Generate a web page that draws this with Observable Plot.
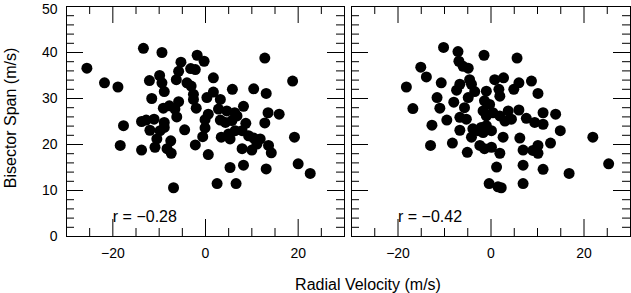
<!DOCTYPE html>
<html>
<head>
<meta charset="utf-8">
<script src="https://cdn.jsdelivr.net/npm/d3@7"></script>
<script src="https://cdn.jsdelivr.net/npm/@observablehq/plot@0.6"></script>
<style>
  html, body { margin: 0; padding: 0; background: #fff; }
  #chart { position: relative; width: 631px; height: 293px; overflow: hidden;
           font-family: "Liberation Sans", Arial, Helvetica, sans-serif; color: #000; }
  #chart svg { position: absolute; top: 0; }
  .title { position: absolute; font-size: 16px; line-height: 16px; white-space: nowrap; }
  #ytitle { left: 11px; top: 118px; transform: translate(-50%, -50%) rotate(-90deg); }
  #xtitle { left: 368px; top: 277px; transform: translateX(-50%); }
</style>
</head>
<body>
<div id="chart">
  <div class="title" id="ytitle">Bisector Span (m/s)</div>
  <div class="title" id="xtitle">Radial Velocity (m/s)</div>
</div>
<script>
// ---- Data ----
const leftVel = [
  -25.6, -21.8, -18.9, -13.4, -9.4, -1.8, -0.3, -5.3, -5.8, -3.2, -2.2, -12.1, -9.9, -9.4, -8.9,
  -6.3, -4.0, -3.1, -2.6, -2.6, -11.6, -9.1, -7.8, -5.8, -6.6, -6.2, -2.0, 0.3, 0.6, -17.7,
  -13.8, -12.8, -11.1, -8.9, -12.0, -9.8, -8.9, -10.5, -7.5, -4.5, -0.1, -0.6, -18.4, -13.8, -10.9,
  -8.3, -7.4, -2.2, 0.6, -6.9, 1.7, -0.1,
  12.8, 18.8, 5.8, 10.4, 13.1, 1.7, 3.2, 8.2, 2.8, 4.6, 6.3, 6.8, 13.5, 15.9, 3.2, 4.3, 5.7,
  12.8, 8.7, 7.9, 3.4, 5.0, 5.3, 6.4, 9.3, 10.4, 11.8, 11.1, 13.6, 14.2, 19.2, 7.9, 10.0,
  5.3, 8.2, 13.1, 20.0, 22.6, 2.5, 6.6
];
const leftSpan = [
  36.6, 33.4, 32.5, 40.9, 40.0, 39.4, 38.1, 37.9, 35.9, 36.5, 36.3, 33.9, 35.0, 33.4, 31.5,
  34.1, 33.4, 32.7, 30.9, 29.8, 30.0, 27.9, 28.4, 29.3, 27.7, 26.0, 27.9, 30.2, 26.6, 24.1,
  25.0, 25.3, 25.5, 24.8, 23.1, 23.0, 23.7, 21.2, 20.8, 23.2, 23.6, 21.7, 19.8, 18.8, 19.4,
  19.1, 18.1, 19.9, 17.8, 10.6, 34.5, 25.4,
  38.8, 33.8, 32.0, 32.1, 31.1, 31.4, 29.8, 28.3, 27.7, 27.3, 26.9, 26.2, 26.9, 26.6, 25.3, 24.8, 25.2,
  24.7, 24.6, 23.0, 21.6, 22.3, 21.2, 23.0, 21.9, 21.4, 21.2, 20.1, 19.8, 18.2, 21.6, 19.1, 18.8,
  15.0, 15.5, 14.7, 15.8, 13.7, 11.5, 11.5
];
const rightVel = [
  -10.2, -7.1, -6.9, -6.0, -4.9, -1.5, -15.1, -13.9, -18.2, -10.7, -4.6, -4.2, -6.7, -7.4, -3.5,
  0.8, -1.0, -11.6, -11.0, -16.8, -8.0, -4.9, -5.7, -1.4, -1.7, -1.0, -9.5, -6.7, -5.3, -6.7,
  -12.7, -3.9, -2.8, -4.2, -1.0, 0.1, -13.0, -8.3, -5.1, -2.4, -1.4, 1.2, -0.4, 1.5,
  5.6, 2.7, 6.0, 8.7, 1.7, 1.9, 4.9, 10.1, 0.4, -0.3, 3.7, 6.0, 1.9, 3.0, 4.4, 7.6, 9.4, 11.2,
  11.2, 13.9, 14.9, 21.9, -2.1, -1.7, 2.6, 6.2, 12.8, 10.1, 10.1, 6.9, 9.0, 0.1, 1.9, 6.9,
  11.2, 16.8, 25.3, 2.2, 6.9
];
const rightSpan = [
  41.1, 40.2, 38.1, 37.0, 36.6, 39.4, 36.8, 34.7, 32.5, 33.4, 34.1, 33.1, 33.1, 31.8, 31.5,
  34.1, 31.6, 30.2, 27.9, 27.8, 29.2, 30.2, 28.0, 29.5, 27.3, 26.2, 25.3, 25.9, 25.5, 23.1,
  24.2, 23.4, 23.0, 21.6, 24.1, 23.0, 19.8, 20.3, 18.3, 19.8, 19.1, 15.1, 11.5, 10.8,
  38.8, 34.5, 33.4, 33.8, 32.0, 30.5, 32.0, 31.1, 26.9, 28.7, 27.3, 27.5, 26.2, 25.1, 25.5, 25.7, 24.8, 24.4,
  26.9, 26.6, 23.0, 21.6, 23.7, 22.6, 21.6, 21.4, 20.3, 19.8, 18.1, 18.8, 18.7, 19.4, 18.1, 15.5,
  14.6, 13.7, 15.8, 10.6, 11.5
];
const correlations = ["r = \u22120.28", "r = \u22120.42"];
const annotX = [-20, -20];
const annotY = [3.2, 3.2];

const xDomain = [-30, 30];
const yDomain = [0, 50];
const xMajorTicks = [-20, 0, 20];
const xMinorTicks = [-25, -15, -10, -5, 5, 10, 15, 25];
const yMajorTicks = [0, 10, 20, 30, 40, 50];
const yMinorTicks = [2, 4, 6, 8, 12, 14, 16, 18, 22, 24, 26, 28, 32, 34, 36, 38, 42, 44, 46, 48];

// ---- Layout ----
const H = 293, MT = 6, MB = 57;
const inner = H - MT - MB;
const majLen = 17, minLen = 8;
const fmt = d => (d < 0 ? "\u2212" + Math.abs(d) : String(d));

function panel(vel, span, idx, {width, marginLeft, marginRight, showY}) {
  const data = vel.map((v, i) => ({v, s: span[i]}));
  const tickStyle = {stroke: "#000", strokeWidth: 1};
  const iw = width - marginLeft - marginRight;
  const topLabel = yDomain[1];
  const yLabelMarks = showY ? [
    Plot.text(yMajorTicks.filter(d => d !== topLabel), {y: d => d, text: fmt, frameAnchor: "left",
      dx: -9, textAnchor: "end", lineAnchor: "middle", fontSize: 14, fill: "#000"}),
    // top label nudged down slightly so it stays inside the picture
    Plot.text([topLabel], {y: d => d, text: fmt, frameAnchor: "left",
      dx: -9, dy: 3, textAnchor: "end", lineAnchor: "middle", fontSize: 14, fill: "#000"})
  ] : [];
  return Plot.plot({
    width, height: H, marginTop: MT, marginBottom: MB, marginLeft, marginRight,
    style: {fontFamily: '"Liberation Sans", Arial, Helvetica, sans-serif', fontSize: "14px", color: "#000", background: "transparent", overflow: "visible"},
    x: {domain: xDomain, ticks: xMajorTicks, tickFormat: fmt, tickSize: 0, tickPadding: 12, label: null},
    y: {domain: yDomain, axis: null},
    marks: [
      Plot.dot(data, {x: "v", y: "s", r: 5.5, fill: "#000", stroke: "none"}),
      // bottom ticks
      Plot.tickX(xMajorTicks, {x: d => d, insetTop: inner - majLen, ...tickStyle}),
      Plot.tickX(xMinorTicks, {x: d => d, insetTop: inner - minLen, ...tickStyle}),
      // top ticks
      Plot.tickX(xMajorTicks, {x: d => d, insetBottom: inner - majLen, ...tickStyle}),
      Plot.tickX(xMinorTicks, {x: d => d, insetBottom: inner - minLen, ...tickStyle}),
      // left ticks
      Plot.tickY(yMajorTicks, {y: d => d, insetRight: iw - majLen, ...tickStyle}),
      Plot.tickY(yMinorTicks, {y: d => d, insetRight: iw - minLen, ...tickStyle}),
      // right ticks
      Plot.tickY(yMajorTicks, {y: d => d, insetLeft: iw - majLen, ...tickStyle}),
      Plot.tickY(yMinorTicks, {y: d => d, insetLeft: iw - minLen, ...tickStyle}),
      ...yLabelMarks,
      Plot.text([correlations[idx]], {x: () => annotX[idx], y: () => annotY[idx], text: d => d,
        textAnchor: "start", lineAnchor: "bottom", fontSize: 16, fill: "#000"}),
      Plot.frame({stroke: "#000", strokeWidth: 1})
    ]
  });
}

const chart = document.getElementById("chart");
const left = panel(leftVel, leftSpan, 0, {width: 347, marginLeft: 66, marginRight: 3, showY: true});
left.style.left = "0px";
const right = panel(rightVel, rightSpan, 1, {width: 284, marginLeft: 4, marginRight: 1, showY: false});
right.style.left = "347px";
chart.appendChild(left);
chart.appendChild(right);
</script>
</body>
</html>
